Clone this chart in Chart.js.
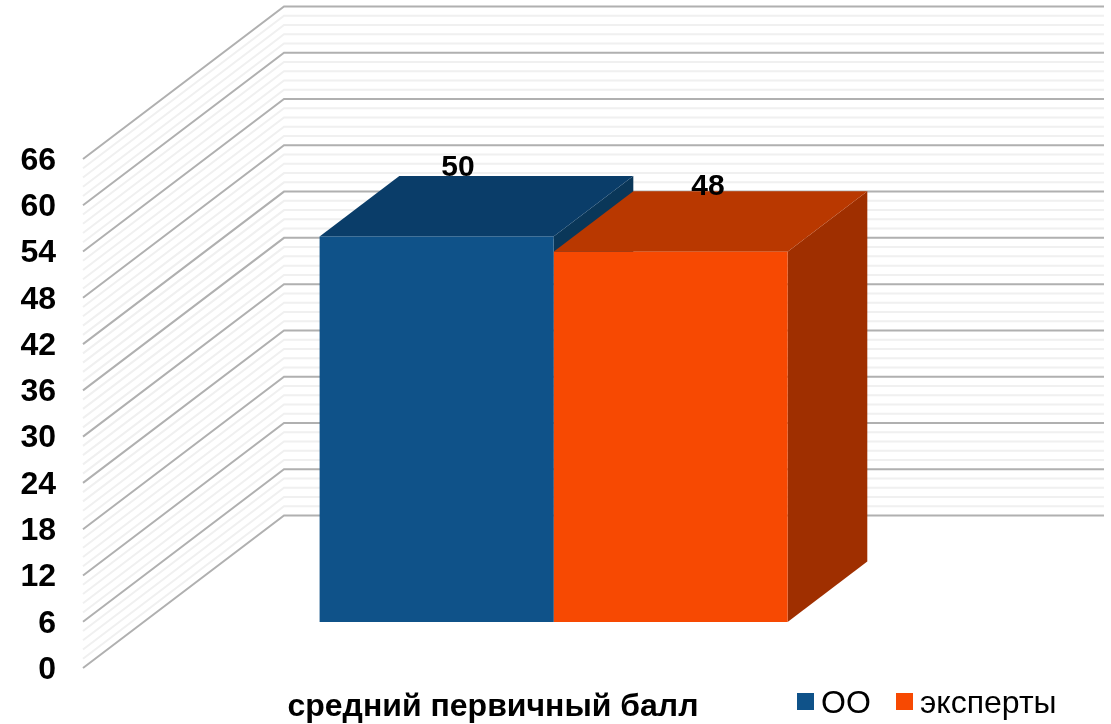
<!DOCTYPE html>
<html>
<head>
<meta charset="utf-8">
<title>средний первичный балл</title>
<script src="https://cdn.jsdelivr.net/npm/chart.js@4"></script>
<style>
    body { margin: 0; background: #fff; }
    canvas { display: block; }
</style>
</head>
<body>
<canvas id="grafico" width="1111" height="724"></canvas>
<script>
const categorias = ["средний первичный балл"];
const valoresOO = [50];
const valoresExpertos = [48];
const nombreOO = "ОО";
const nombreExpertos = "эксперты";
const ejeMin = 0;
const ejeMax = 66;
const ejePaso = 6;
const subdivisiones = 5;

const fuente = '"Liberation Sans", Arial, sans-serif';

// desplazamiento de la pared del fondo respecto al frente del eje
const paredX = 201, paredY = -152.5;
// plano frontal de las barras y profundidad de las barras
const planoX = 60.6, planoY = -46;
const fondoX = 79.7, fondoY = -60.5;

const colores = [
    { frente: "#0f5289", arriba: "#0a3d69", lado: "#0a3759" },
    { frente: "#f74902", arriba: "#b93800", lado: "#9f2f00" }
];

const grafico3d = {
    id: "grafico3d",
    beforeDatasetsDraw(chart) {
        const ctx = chart.ctx;
        const y = chart.scales.y;
        const izq = chart.chartArea.left;
        const der = chart.chartArea.right;

        function linea(valor, color, ancho) {
            const py = y.getPixelForValue(valor);
            ctx.beginPath();
            ctx.moveTo(izq, py);
            ctx.lineTo(izq + paredX, py + paredY);
            ctx.lineTo(der + paredX, py + paredY);
            ctx.strokeStyle = color;
            ctx.lineWidth = ancho;
            ctx.stroke();
        }

        ctx.save();
        const pasoMenor = ejePaso / subdivisiones;
        for (let i = 0; i < (ejeMax - ejeMin) / pasoMenor; i++) {
            if (i % subdivisiones !== 0) linea(ejeMin + i * pasoMenor, "#f0f0f0", 2);
        }
        for (let v = ejeMin; v <= ejeMax; v += ejePaso) {
            linea(v, "#b0b0b0", 2);
        }

        // caras de arriba y del lado de cada barra
        chart.data.datasets.forEach(function (ds, i) {
            chart.getDatasetMeta(i).data.forEach(function (barra) {
                const x0 = barra.x - barra.width / 2 + planoX;
                const x1 = barra.x + barra.width / 2 + planoX;
                const yArriba = barra.y + planoY;
                const yBase = barra.base + planoY;

                ctx.fillStyle = colores[i].lado;
                ctx.beginPath();
                ctx.moveTo(x1, yArriba);
                ctx.lineTo(x1 + fondoX, yArriba + fondoY);
                ctx.lineTo(x1 + fondoX, yBase + fondoY);
                ctx.lineTo(x1, yBase);
                ctx.closePath();
                ctx.fill();

                ctx.fillStyle = colores[i].arriba;
                ctx.beginPath();
                ctx.moveTo(x0, yArriba);
                ctx.lineTo(x0 + fondoX, yArriba + fondoY);
                ctx.lineTo(x1 + fondoX, yArriba + fondoY);
                ctx.lineTo(x1, yArriba);
                ctx.closePath();
                ctx.fill();
            });
        });
        ctx.restore();

        // las barras se dibujan corridas hasta su plano frontal
        ctx.save();
        ctx.translate(planoX, planoY);
    },
    afterDatasetsDraw(chart) {
        const ctx = chart.ctx;
        ctx.restore();

        // etiquetas de valor
        const corrimiento = [{ x: 82, y: -69 }, { x: 98, y: -65 }];
        ctx.save();
        ctx.font = "bold 30px " + fuente;
        ctx.fillStyle = "#000";
        ctx.textAlign = "center";
        ctx.textBaseline = "middle";
        chart.data.datasets.forEach(function (ds, i) {
            const barra = chart.getDatasetMeta(i).data[0];
            ctx.fillText(ds.data[0], barra.x + corrimiento[i].x, barra.y + corrimiento[i].y + planoY);
        });

        // leyenda
        const leyendaX = [797, 896];
        ctx.font = "32px " + fuente;
        ctx.textAlign = "left";
        chart.data.datasets.forEach(function (ds, i) {
            ctx.fillStyle = ds.backgroundColor;
            ctx.fillRect(leyendaX[i], 693, 17, 17);
            ctx.fillStyle = "#000";
            ctx.fillText(ds.label, leyendaX[i] + 24, 704);
        });
        ctx.restore();
    }
};

new Chart(document.getElementById("grafico"), {
    type: "bar",
    data: {
        labels: categorias,
        datasets: [
            { label: nombreOO, data: valoresOO, backgroundColor: colores[0].frente, clip: false },
            { label: nombreExpertos, data: valoresExpertos, backgroundColor: colores[1].frente, clip: false }
        ]
    },
    options: {
        responsive: false,
        animation: false,
        layout: { padding: { left: 0, top: 159, right: 208, bottom: 0 } },
        plugins: {
            legend: { display: false },
            tooltip: { enabled: false }
        },
        datasets: {
            bar: { barPercentage: 1, categoryPercentage: 468 / 820 }
        },
        scales: {
            x: {
                grid: { display: false },
                border: { display: false },
                afterFit(eje) { eje.height = 56; },
                ticks: {
                    color: "#000",
                    padding: 12,
                    maxRotation: 0,
                    font: { family: fuente, size: 32, weight: "bold" }
                }
            },
            y: {
                min: ejeMin,
                max: ejeMax,
                grid: { display: false, drawTicks: false },
                border: { display: false },
                afterFit(eje) { eje.width = 83; },
                ticks: {
                    stepSize: ejePaso,
                    color: "#000",
                    padding: 27,
                    labelOffset: 2,
                    font: { family: fuente, size: 32, weight: "bold" }
                }
            }
        }
    },
    plugins: [grafico3d]
});
</script>
</body>
</html>
